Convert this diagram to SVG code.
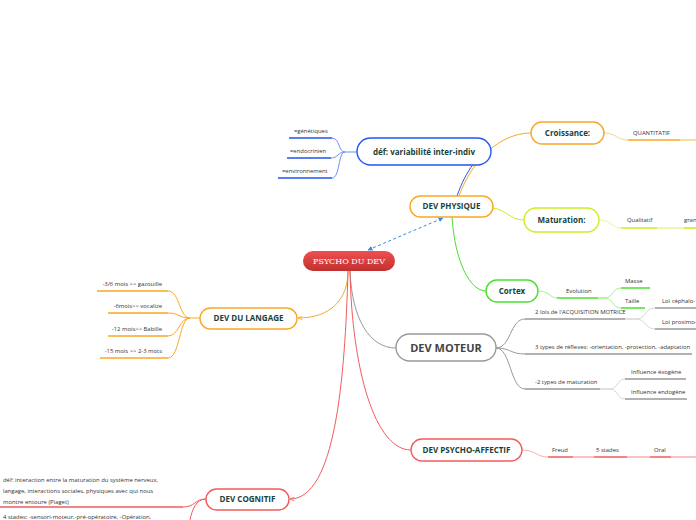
<svg xmlns="http://www.w3.org/2000/svg" width="696" height="520" viewBox="0 0 696 520">
<defs>
<linearGradient id="rg" x1="0" y1="0" x2="0" y2="1"><stop offset="0" stop-color="#ef5050"/><stop offset="1" stop-color="#c0302f"/></linearGradient>
<marker id="ab" viewBox="0 0 10 10" refX="9" refY="5" markerWidth="5" markerHeight="5" orient="auto-start-reverse"><path d="M0,0 L10,5 L0,10 z" fill="#3a86e0"/></marker>
<marker id="ar" viewBox="0 0 10 10" refX="9" refY="5" markerWidth="5" markerHeight="5" orient="auto"><path d="M0,1 L9,5 L0,9" fill="none" stroke="#f25c5c" stroke-width="1.5"/></marker>
<marker id="ao" viewBox="0 0 10 10" refX="9" refY="5" markerWidth="5" markerHeight="5" orient="auto"><path d="M0,1 L9,5 L0,9" fill="none" stroke="#f9a825" stroke-width="1.5"/></marker>
<style>
.lbl{font-family:"Open Sans","Noto Sans",sans-serif;font-weight:bold;fill:#17423a;text-anchor:middle}
.sm{font-family:"Open Sans","Noto Sans",sans-serif;font-size:5.9px;fill:#333}
.c{fill:none;stroke-width:1}
.u{fill:none;stroke-width:1.6}
.o{stroke:#f9a825}.ol{stroke:#fcd38a}
.b{stroke:#2255ee}.bl{stroke:#6f8ff5}
.l{stroke:#ccee22}.ll{stroke:#e8f8a0}
.g{stroke:#4be02f}.gl{stroke:#a8f090}
.k{stroke:#999}.kl{stroke:#d6d6d6}
.r{stroke:#f25c5c}.rl{stroke:#f9b0b0}
.node{fill:#fff;stroke-width:1.4}
</style>
</defs>
<g id="connectors">
<path class="c" d="M368,250 L443,218" stroke="#3a86e0" stroke-dasharray="3,2.5" marker-start="url(#ab)" marker-end="url(#ab)"/>
<path class="c o" d="M348,271 C348,300 330,318 298,318" marker-end="url(#ao)"/>
<path class="c k" d="M350,271 C352,320 370,348 396,348"/>
<path class="c r" d="M350,271 C352,370 375,450 411,450"/>
<path class="c r" d="M348,271 C345,380 335,499 290,499" marker-end="url(#ar)"/>
<path class="c b" d="M457,196 C466,170 480,152 491,152"/>
<path class="c o" d="M459,196 C472,160 500,133 531,133"/>
<path class="c l" d="M493,208 C507,210 510,220 524,220"/>
<path class="c g" d="M452,217 C455,262 470,291 486,291"/>
<path class="c bl" d="M357,152 L345,152 M345,152 C338,152 340,138 332,138 M345,152 C338,152 338,158 331,158 M345,152 C338,152 340,178 332,178"/>
<path class="c ol" d="M604,133 C616,133 617,140 628,140"/>
<path class="u o" d="M628,140 L680,140"/><path class="u ol" d="M680,140 L696,140"/>
<path class="c ll" d="M599,220 C611,220 612,228 621,228"/>
<path class="u l" d="M621,228 L657,228"/><path class="u ll" d="M657,228 L684,228"/><path class="u l" d="M684,228 L696,228"/>
<path class="c gl" d="M538,291 C549,291 550,298 557,298 M605,298 C613,298 612,288 621,288 M605,298 C613,298 612,308 621,308"/>
<path class="u g" d="M557,298 L598,298 M621,288 L650,288 M621,308 L645,308"/><path class="u gl" d="M598,298 L605,298"/>
<path class="c k" d="M496,348 C511,348 510,319 525,319 M496,348 C511,348 510,354 525,354 M496,348 C511,348 510,389 525,389"/>
<path class="c kl" d="M636,319 C646,319 645,308 655,308 M636,319 C646,319 645,329 655,329 M610,389 C618,389 617,379 625,379 M610,389 C618,389 617,399 625,399"/>
<path class="u k" d="M525,319 L625,319 M525,354 L692,354 M525,389 L600,389 M655,308 L696,308 M655,329 L696,329 M625,379 L686,379 M625,399 L687,399"/>
<path class="u kl" d="M625,319 L636,319 M600,389 L610,389"/>
<path class="c o" d="M200,318 L190,318 M190,318 C179,318 180,291 168,291 M190,318 C179,318 179,313 168,313 M190,318 C179,318 179,336 168,336 M190,318 C179,318 180,358 168,358"/>
<path class="u o" d="M97,291 L168,291 M108,313 L168,313 M108,336 L168,336 M100,358 L168,358"/>
<path class="c rl" d="M522,450 C536,450 536,457 548,457"/>
<path class="u r" d="M548,457 L573,457 M594,457 L627,457 M650,457 L671,457"/><path class="u rl" d="M573,457 L594,457 M627,457 L650,457 M671,457 L696,457"/>
<path class="c r" d="M206,499 C195,499 195,507 183,507 M206,499 C196,499 192,510 190,520"/>
<path class="u r" d="M0,507 L183,507"/>
<path class="u b" d="M289,138 L332,138 M287,158 L331,158 M278,178 L332,178"/>
</g>
<g id="n-root"><rect x="303" y="251" width="92" height="20" rx="10" fill="url(#rg)"/><text x="349" y="264" font-family="'DejaVu Serif','Liberation Serif',serif" font-size="8" fill="#fff" text-anchor="middle">PSYCHO DU DEV</text></g>
<g id="n-physique"><rect class="node o" x="410" y="196" width="83" height="21" rx="10.5"/><text class="lbl" x="451.5" y="209" font-size="8">DEV PHYSIQUE</text></g>
<g id="n-def"><rect class="node b" x="357" y="138" width="134" height="27" rx="13.5"/><text class="lbl" x="424" y="155" font-size="8">déf: variabilité inter-indiv</text></g>
<g id="n-gen"><text class="sm" x="294" y="133">=génétiques</text></g>
<g id="n-endo"><text class="sm" x="290" y="153">=endocrinien</text></g>
<g id="n-env"><text class="sm" x="282" y="173">=environnement</text></g>
<g id="n-croissance"><rect class="node o" x="531" y="122" width="73" height="22" rx="11"/><text class="lbl" x="567.5" y="136" font-size="8">Croissance:</text></g>
<g id="n-quant"><text class="sm" x="633" y="135">QUANTITATIF</text></g>
<g id="n-maturation"><rect class="node l" x="524" y="208" width="75" height="24" rx="12"/><text class="lbl" x="561.5" y="223" font-size="8">Maturation:</text></g>
<g id="n-qual"><text class="sm" x="627" y="222">Qualitatif</text></g>
<g id="n-gran"><text class="sm" x="684" y="222">gran</text></g>
<g id="n-cortex"><rect class="node g" x="486" y="280" width="52" height="22" rx="11"/><text class="lbl" x="512" y="294" font-size="8">Cortex</text></g>
<g id="n-evol"><text class="sm" x="566" y="293">Evolution</text></g>
<g id="n-masse"><text class="sm" x="625" y="283">Masse</text></g>
<g id="n-taille"><text class="sm" x="625" y="303">Taille</text></g>
<g id="n-moteur"><rect class="node k" x="396" y="334" width="100" height="27" rx="13.5" stroke="#777"/><text class="lbl" x="446" y="352" font-size="11" style="fill:#444">DEV MOTEUR</text></g>
<g id="n-lois"><text class="sm" x="535" y="314">2 lois de l'ACQUISITION MOTRICE</text></g>
<g id="n-cepha"><text class="sm" x="662" y="303">Loi céphalo-</text></g>
<g id="n-proxi"><text class="sm" x="662" y="324">Loi proximo-</text></g>
<g id="n-reflexes"><text class="sm" x="535" y="349">3 types de réflexes: -orientation, -protection, -adaptation</text></g>
<g id="n-matu2"><text class="sm" x="535" y="384">-2 types de maturation</text></g>
<g id="n-exo"><text class="sm" x="631" y="374">Influence éxogène</text></g>
<g id="n-endo2"><text class="sm" x="631" y="394">Influence endogène</text></g>
<g id="n-langage"><rect class="node o" x="200" y="308" width="97" height="21" rx="10.5"/><text class="lbl" x="248.5" y="321" font-size="8">DEV DU LANGAGE</text></g>
<g id="n-l1"><text class="sm" x="162" y="286" text-anchor="end">-3/6 mois &gt;&gt; gazouille</text></g>
<g id="n-l2"><text class="sm" x="162" y="308" text-anchor="end">-6mois&gt;&gt; vocalize</text></g>
<g id="n-l3"><text class="sm" x="162" y="331" text-anchor="end">-12 mois&gt;&gt; Babille</text></g>
<g id="n-l4"><text class="sm" x="162" y="353" text-anchor="end">-15 mois &gt;&gt; 2-3 mots</text></g>
<g id="n-affectif"><rect class="node r" x="411" y="439" width="111" height="22" rx="11"/><text class="lbl" x="466.5" y="453" font-size="8">DEV PSYCHO-AFFECTIF</text></g>
<g id="n-freud"><text class="sm" x="552" y="452">Freud</text></g>
<g id="n-stades"><text class="sm" x="596" y="452">5 stades</text></g>
<g id="n-oral"><text class="sm" x="654" y="452">Oral</text></g>
<g id="n-cognitif"><rect class="node r" x="206" y="489" width="83" height="21" rx="10.5"/><text class="lbl" x="247.5" y="502" font-size="8">DEV COGNITIF</text></g>
<g id="n-defcog"><text class="sm" x="3" y="482">déf: interaction entre la maturation du système nerveux,</text><text class="sm" x="3" y="493">langage, interactions sociales, physiques avec  qui nous</text><text class="sm" x="3" y="504">montre entoure (Piaget)</text></g>
<g id="n-4stades"><text class="sm" x="3" y="519">4 stades: -sensori-moteur,-pré-opératoire, -Opération,</text></g>
</svg>
